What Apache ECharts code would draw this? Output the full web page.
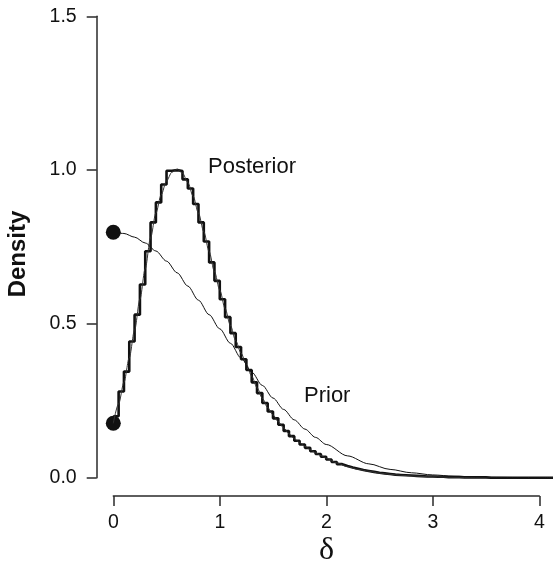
<!DOCTYPE html>
<html>
<head>
<meta charset="utf-8">
<script src="https://cdn.jsdelivr.net/npm/echarts@6/dist/echarts.min.js"></script>
<style>html,body{margin:0;padding:0;background:#fff}#c{width:553px;height:566px}</style>
</head>
<body>
<div id="c"></div>
<script>
// ---- data ----
const xTicks = [0, 1, 2, 3, 4];
const yTickLabels = ['0.0', '0.5', '1.0', '1.5'];

// posterior histogram (MCMC samples), bins of width 0.05 starting at 0
const binStart = 0;
const binWidth = 0.05;
const histValues = [
  0.20, 0.28, 0.345, 0.443, 0.53, 0.628, 0.736, 0.83, 0.895, 0.953,
  0.998, 1.0, 0.997, 0.97, 0.94, 0.89, 0.83, 0.768, 0.70, 0.64,
  0.58, 0.522, 0.47, 0.425, 0.385, 0.35, 0.31, 0.275, 0.243, 0.215,
  0.193, 0.172, 0.152, 0.135, 0.12, 0.108, 0.097, 0.086, 0.077, 0.068,
  0.059, 0.051, 0.044, 0.038, 0.033, 0.029, 0.025, 0.022, 0.019, 0.016,
  0.014, 0.012, 0.010, 0.009, 0.008, 0.007, 0.006, 0.005, 0.004, 0.004,
  0.003, 0.003, 0.002, 0.002, 0.002, 0.001, 0.001, 0.001, 0.001, 0.001,
  0, 0, 0, 0, 0, 0, 0, 0, 0, 0, 0, 0
];

// smooth posterior density
const postX = [0, 0.05, 0.1, 0.15, 0.2, 0.25, 0.3, 0.35, 0.4, 0.45, 0.5, 0.55, 0.6, 0.65, 0.7, 0.75, 0.8, 0.85, 0.9, 0.95,
  1.0, 1.05, 1.1, 1.15, 1.2, 1.25, 1.3, 1.35, 1.4, 1.45, 1.5, 1.55, 1.6, 1.65, 1.7, 1.75, 1.8, 1.85, 1.9, 1.95,
  2.0, 2.1, 2.2, 2.3, 2.4, 2.5, 2.6, 2.7, 2.8, 2.9, 3.0, 3.2, 3.4, 3.6, 3.8, 4.13];
const postY = [0.177, 0.24, 0.31, 0.39, 0.48, 0.58, 0.68, 0.78, 0.86, 0.92, 0.965, 0.993, 1.003, 0.99, 0.96, 0.915, 0.86, 0.80, 0.735, 0.67,
  0.61, 0.55, 0.495, 0.445, 0.405, 0.368, 0.33, 0.293, 0.258, 0.228, 0.204, 0.182, 0.162, 0.143, 0.127, 0.114, 0.102, 0.091, 0.081, 0.072,
  0.063, 0.048, 0.036, 0.027, 0.021, 0.015, 0.011, 0.008, 0.006, 0.004, 0.003, 0.0015, 0.0007, 0.0003, 0.0001, 0];

// prior density
const priorX = [0, 0.1, 0.2, 0.3, 0.4, 0.5, 0.6, 0.7, 0.8, 0.9, 1.0, 1.1, 1.2, 1.3, 1.4, 1.5, 1.6, 1.7, 1.8, 1.9,
  2.0, 2.2, 2.4, 2.6, 2.8, 3.0, 3.2, 3.4, 3.6, 3.8, 4.0, 4.13];
const priorY = [0.798, 0.794, 0.782, 0.763, 0.737, 0.704, 0.666, 0.623, 0.577, 0.53, 0.484, 0.437, 0.389, 0.343, 0.3, 0.259, 0.222, 0.188, 0.158, 0.131,
  0.108, 0.071, 0.045, 0.027, 0.016, 0.009, 0.0049, 0.0025, 0.0012, 0.0006, 0.0003, 0.0001];

// highlighted points at delta = 0
const dotX = [0, 0];
const dotY = [0.798, 0.177];

// ---- build chart ----
const histData = histValues.map((v, k) => [binStart + k * binWidth, v]);
histData.push([binStart + histValues.length * binWidth, histValues[histValues.length - 1]]);
histData.push([4.13, 0]);

const ink = '#111';
const axisInk = '#2a2a2a';
const fontFam = '"Liberation Sans", Arial, sans-serif';

const chart = echarts.init(document.getElementById('c'), null, {renderer: 'canvas'});
chart.setOption({
  animation: false,
  backgroundColor: '#fff',
  grid: [
    {left: 113.3, top: 16.3, width: 439.8, height: 461.4},
    {left: 113.3, top: 16.3, width: 426, height: 479.7}
  ],
  xAxis: [
    {type: 'value', gridIndex: 0, min: 0, max: 4.13, show: false},
    {type: 'value', gridIndex: 1, min: 0, max: 4, interval: 1,
      axisLine: {show: true, onZero: false, lineStyle: {color: axisInk, width: 1.5}},
      axisTick: {show: true, inside: false, length: 10, lineStyle: {color: axisInk, width: 1.5}},
      axisLabel: {show: true, margin: 17, color: '#111', fontSize: 19.5, fontFamily: fontFam,
        formatter: v => xTicks.indexOf(v) >= 0 ? String(v) : ''},
      splitLine: {show: false}
    }
  ],
  yAxis: [
    {type: 'value', gridIndex: 0, min: 0, max: 1.5, interval: 0.5, offset: 16.6,
      axisLine: {show: true, onZero: false, lineStyle: {color: axisInk, width: 1.5}},
      axisTick: {show: true, inside: false, length: 10, lineStyle: {color: axisInk, width: 1.5}},
      axisLabel: {show: true, margin: 20, color: '#111', fontSize: 19.5, fontFamily: fontFam,
        formatter: v => yTickLabels[Math.round(v / 0.5)]},
      splitLine: {show: false}
    },
    {type: 'value', gridIndex: 1, min: 0, max: 1, show: false}
  ],
  series: [
    {type: 'line', name: 'histogram', xAxisIndex: 0, yAxisIndex: 0, data: histData, step: 'end',
      showSymbol: false, symbol: 'none', clip: false,
      lineStyle: {color: ink, width: 2.6}},
    {type: 'line', name: 'Posterior', xAxisIndex: 0, yAxisIndex: 0,
      data: postX.map((x, i) => [x, postY[i]]), smooth: 0.3, smoothMonotone: 'x',
      showSymbol: false, symbol: 'none', clip: false,
      lineStyle: {color: '#333', width: 1}},
    {type: 'line', name: 'Prior', xAxisIndex: 0, yAxisIndex: 0,
      data: priorX.map((x, i) => [x, priorY[i]]), smooth: 0.3, smoothMonotone: 'x',
      showSymbol: false, symbol: 'none', clip: false,
      lineStyle: {color: ink, width: 1}},
    {type: 'scatter', xAxisIndex: 0, yAxisIndex: 0, data: dotX.map((x, i) => [x, dotY[i]]),
      symbol: 'circle', symbolSize: 15, clip: false, itemStyle: {color: ink, opacity: 1}}
  ],
  graphic: [
    {type: 'text', left: 208, top: 156, style: {text: 'Posterior', fill: '#111', font: '22px ' + fontFam}},
    {type: 'text', left: 304, top: 385, style: {text: 'Prior', fill: '#111', font: '22px ' + fontFam}},
    {type: 'text', x: 18, y: 254, rotation: Math.PI / 2,
      style: {text: 'Density', fill: '#111', font: 'bold 24px ' + fontFam, align: 'center', verticalAlign: 'middle'}},
    {type: 'text', x: 326.5, y: 551, style: {text: 'δ', fill: '#111', font: '32px "Liberation Serif", "DejaVu Serif", serif', align: 'center', verticalAlign: 'middle'}}
  ]
});
</script>
</body>
</html>
